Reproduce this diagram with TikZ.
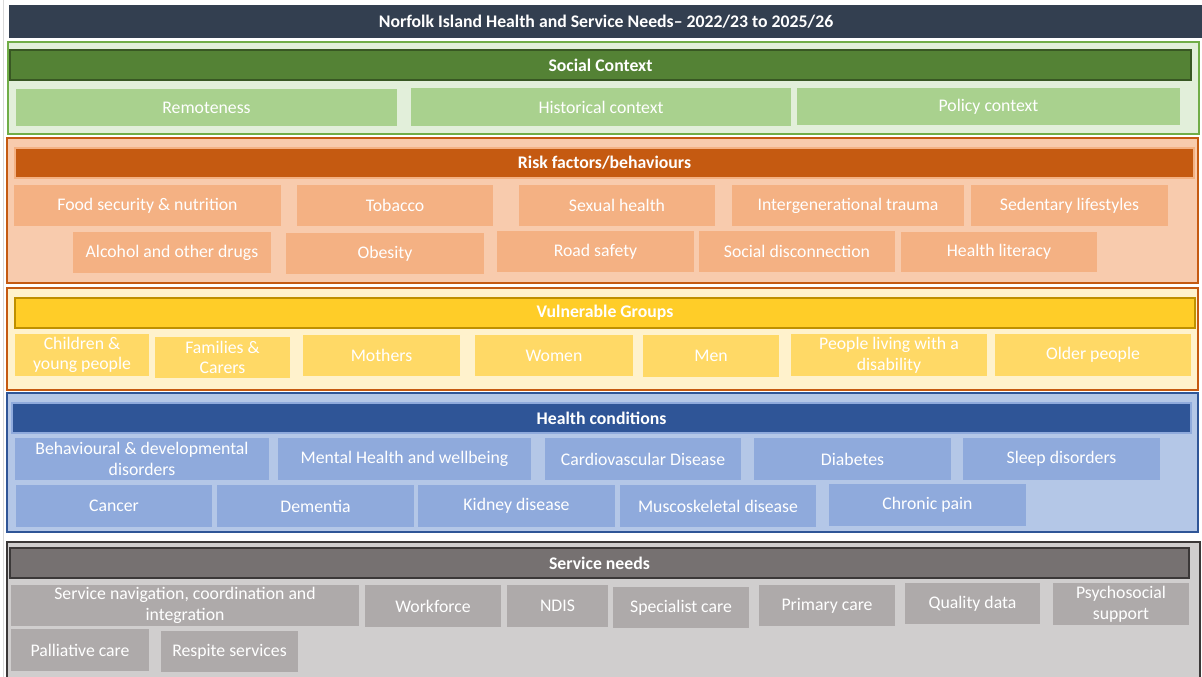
\documentclass[tikz,border=0pt]{standalone}
\usepackage{fontspec}
\setmainfont{Carlito}
\definecolor{titlebg}{HTML}{333F50}
\definecolor{soclight}{HTML}{E2EFDA}
\definecolor{socline}{HTML}{70AD47}
\definecolor{sochead}{HTML}{548235}
\definecolor{socdark}{HTML}{385723}
\definecolor{socitem}{HTML}{A9D18E}
\definecolor{risklight}{HTML}{F8CBAD}
\definecolor{riskline}{HTML}{C55A11}
\definecolor{riskitem}{HTML}{F4B183}
\definecolor{vullight}{HTML}{FFF2CC}
\definecolor{vulhead}{HTML}{FFCD28}
\definecolor{vuldark}{HTML}{BF9000}
\definecolor{vulitem}{HTML}{FFD966}
\definecolor{hclight}{HTML}{B4C7E7}
\definecolor{hcline}{HTML}{2F5597}
\definecolor{hcitem}{HTML}{8FAADC}
\definecolor{svlight}{HTML}{D0CECE}
\definecolor{svhead}{HTML}{767171}
\definecolor{svdark}{HTML}{3B3838}
\definecolor{svitem}{HTML}{AEAAAA}
% area=x1/y1/x2/y2 : node filling the box between two corners (in px)
\tikzset{area/.style args = {#1/#2/#3/#4}{at={({(#1+#3)/2}, {(#2+#4)/2})},
                                          minimum width={(#3-#1)*0.75pt},
                                          minimum height={(#4-#2)*0.75pt}}}
\tikzset{band/.style 2 args = {fill=#1, draw=#2, line width=1pt, inner sep=0}}
\tikzset{head/.style 2 args = {fill=#1, draw=#2, line width=0.8pt, inner sep=0,
                               text=white, font=\fontsize{13.3}{15}\selectfont\bfseries}}
\tikzset{cell/.style = {fill=#1, inner sep=0, text=white, align=center}}

\begin{document}
\begin{tikzpicture}[x=0.75pt, y=-0.75pt, font=\fontsize{13.3}{15.5}\selectfont]
      \useasboundingbox [fill=white] (0, 0) rectangle (1202, 677);
      \draw [gray!30] (3, 0) -- (3, 677);

      \node [head={titlebg}{titlebg}, area=10/6/1202/37] (title)
        {Norfolk Island Health and Service Needs– 2022/23 to 2025/26};

      % social context
      \node [band={soclight}{socline}, area=8/42/1199/134] (social) {};
      \node [head={sochead}{socdark}, area=10/50/1191/80] (socialhead) {Social Context};
      \node [cell=socitem, area=16/89/397/126] (remote) {Remoteness};
      \node [cell=socitem, area=411/88/791/126] (history) {Historical context};
      \node [cell=socitem, area=797/88/1180/125] (policy) {Policy context};

      % risk factors
      \node [band={risklight}{riskline}, area=7/138/1198/283] (risk) {};
      \node [head={riskline}{riskitem}, area=15/148/1194/178] (riskhead) {Risk factors/behaviours};
      \node [cell=riskitem, area=14/185/281/226] (food) {Food security \& nutrition};
      \node [cell=riskitem, area=297/185/493/226] (tobacco) {Tobacco};
      \node [cell=riskitem, area=519/185/715/226] (sexual) {Sexual health};
      \node [cell=riskitem, area=732/185/964/226] (trauma) {Intergenerational trauma};
      \node [cell=riskitem, area=971/185/1168/226] (sedentary) {Sedentary lifestyles};
      \node [cell=riskitem, area=73/232/271/273] (alcohol) {Alcohol and other drugs};
      \node [cell=riskitem, area=286/233/484/274] (obesity) {Obesity};
      \node [cell=riskitem, area=497/231/694/272] (road) {Road safety};
      \node [cell=riskitem, area=699/231/895/272] (disconnect) {Social disconnection};
      \node [cell=riskitem, area=901/232/1097/272] (literacy) {Health literacy};

      % vulnerable groups
      \node [band={vullight}{riskline}, area=7/288/1198/390] (vulnerable) {};
      \node [head={vulhead}{vuldark}, area=15/298/1195/328] (vulhead) {Vulnerable Groups};
      \node [cell=vulitem, area=15/334/149/376] (children) {Children \&\\young people};
      \node [cell=vulitem, area=155/337/290/378] (families) {Families \&\\Carers};
      \node [cell=vulitem, area=303/335/460/376] (mothers) {Mothers};
      \node [cell=vulitem, area=475/335/633/376] (women) {Women};
      \node [cell=vulitem, area=643/335/779/377] (men) {Men};
      \node [cell=vulitem, area=791/334/987/376] (disability) {People living with a\\disability};
      \node [cell=vulitem, area=995/334/1191/376] (older) {Older people};

      % health conditions
      \node [band={hclight}{hcline}, area=7/393/1198/532] (health) {};
      \node [head={hcline}{hcitem}, area=12/403/1191/433] (healthhead) {Health conditions};
      \node [cell=hcitem, area=15/438/269/480] (behaviour) {Behavioural \& developmental\\disorders};
      \node [cell=hcitem, area=278/438/531/480] (mental) {Mental Health and wellbeing};
      \node [cell=hcitem, area=545/438/741/480] (cardio) {Cardiovascular Disease};
      \node [cell=hcitem, area=754/438/951/480] (diabetes) {Diabetes};
      \node [cell=hcitem, area=963/438/1160/480] (sleep) {Sleep disorders};
      \node [cell=hcitem, area=16/485/212/527] (cancer) {Cancer};
      \node [cell=hcitem, area=217/485/414/527] (dementia) {Dementia};
      \node [cell=hcitem, area=418/485/615/527] (kidney) {Kidney disease};
      \node [cell=hcitem, area=620/485/816/527] (musco) {Muscoskeletal disease};
      \node [cell=hcitem, area=829/484/1026/526] (pain) {Chronic pain};

      % service needs
      \node [band={svlight}{svdark}, area=7/542/1200/680] (service) {};
      \node [head={svhead}{svdark}, area=10/548/1189/578] (servicehead) {Service needs};
      \node [cell=svitem, area=11/585/359/626] (navigation) {Service navigation, coordination and\\integration};
      \node [cell=svitem, area=365/585/501/627] (workforce) {Workforce};
      \node [cell=svitem, area=507/585/608/627] (ndis) {NDIS};
      \node [cell=svitem, area=613/587/749/628] (specialist) {Specialist care};
      \node [cell=svitem, area=759/585/895/626] (primary) {Primary care};
      \node [cell=svitem, area=905/583/1040/624] (quality) {Quality data};
      \node [cell=svitem, area=1053/583/1189/625] (psychosocial) {Psychosocial\\support};
      \node [cell=svitem, area=11/629/149/671] (palliative) {Palliative care};
      \node [cell=svitem, area=161/631/298/672] (respite) {Respite services};
    \end{tikzpicture}
\end{document}
